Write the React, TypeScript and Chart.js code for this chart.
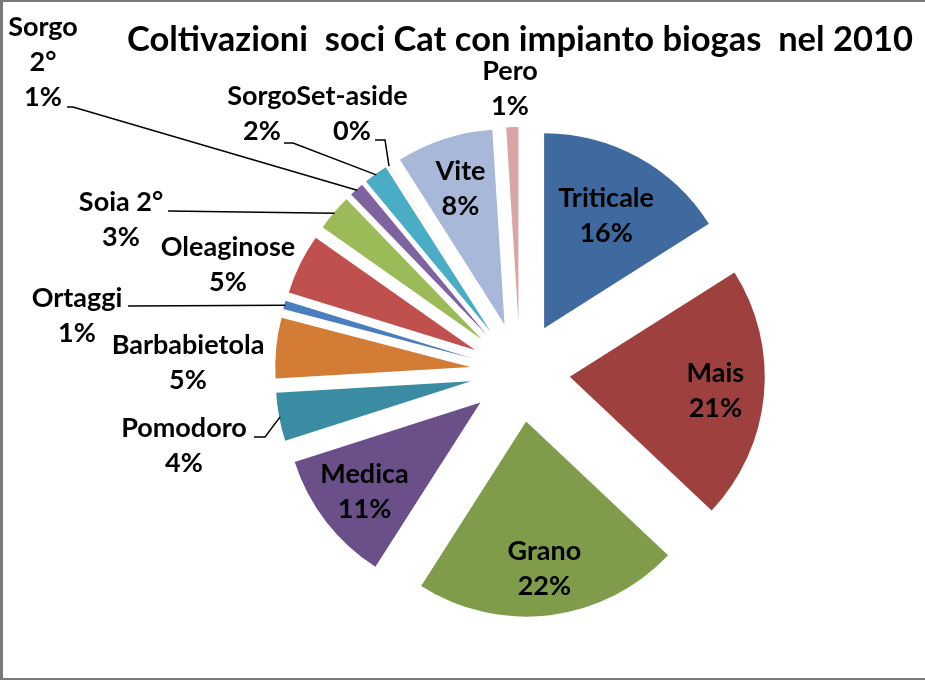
import React, { useEffect, useRef } from 'react';
import { Chart, registerables, ArcElement, PieController } from 'chart.js';

Chart.register(...registerables);

// ---- data ----
const categories = ['Triticale', 'Mais', 'Grano', 'Medica', 'Pomodoro', 'Barbabietola', 'Ortaggi', 'Oleaginose', 'Soia 2°', 'Sorgo 2°', 'Sorgo', 'Set-aside', 'Vite', 'Pero'];
const shares = [16, 21, 22, 11, 4, 5, 0.7, 5, 3, 1.2, 2, 0.02, 8, 1];
const nameLines = [['Triticale'], ['Mais'], ['Grano'], ['Medica'], ['Pomodoro'], ['Barbabietola'], ['Ortaggi'], ['Oleaginose'], ['Soia 2°'], ['Sorgo', '2°'], ['Sorgo'], ['Set-aside'], ['Vite'], ['Pero']];
const titleText = 'Coltivazioni  soci Cat con impianto biogas  nel 2010';

// ---- styles / layout ----
const sliceColors = ['#3F6A9F', '#9E413E', '#7E9C4A', '#6A4F88', '#3A8CA3', '#D27C36', '#4A7EBF', '#C0504D', '#9BBB59', '#7F63A1', '#4AACC5', '#F79646', '#A7B8D8', '#D9A5A5'];
const EXPLODE = 50;
const RADIUS = 195;
const FONT = 'bold 27px Lato';
const LINE_H = 35;

type Placement = { inside?: number; at?: [number, number]; leader?: [number, number][] };
const placements: Placement[] = [
  { inside: 0.66 },
  { inside: 0.75 },
  { inside: 0.76 },
  { inside: 0.75 },
  { at: [-336, 73.5], leader: [[-266, 65], [-255, 65]] },
  { at: [-332, -9.5] },
  { at: [-443, -56.5], leader: [[-392, -66]] },
  { at: [-292, -107] },
  { at: [-399, -152.5], leader: [[-352, -161]] },
  { at: [-477, -310], leader: [[-453, -265], [-447, -265]] },
  { at: [-258, -258.5], leader: [[-236, -229], [-227, -229]] },
  { at: [-168, -258.5], leader: [[-145, -232], [-135, -232]] },
  { inside: 0.73 },
  { at: [-10, -283] },
];

class ExplodedArc extends ArcElement {
  static id = 'explodedArc';
  draw(ctx: CanvasRenderingContext2D) {
    const a: any = this;
    const mid = (a.startAngle + a.endAngle) / 2;
    ctx.save();
    ctx.translate(Math.cos(mid) * EXPLODE, Math.sin(mid) * EXPLODE);
    super.draw(ctx);
    ctx.restore();
  }
}

class ExplodedPieController extends PieController {
  static id = 'explodedPie';
  static defaults = { dataElementType: 'explodedArc' };
}

Chart.register(ExplodedArc as any, ExplodedPieController as any);

const framePlugin = {
  id: 'frame',
  beforeDraw(chart: any) {
    const { ctx, width, height } = chart;
    ctx.save();
    ctx.fillStyle = '#ffffff';
    ctx.fillRect(0, 0, width, height);
    ctx.restore();
  },
  afterDraw(chart: any) {
    const { ctx, width, height } = chart;
    ctx.save();
    ctx.fillStyle = '#7a7a7a';
    ctx.fillRect(0, 0, width, 2);
    ctx.fillRect(0, 0, 3, height);
    ctx.fillRect(0, height - 2, width, 2);
    ctx.restore();
  },
};

const labelPlugin = {
  id: 'sliceLabels',
  afterDatasetsDraw(chart: any) {
    const meta = chart.getDatasetMeta(0);
    const ctx: CanvasRenderingContext2D = chart.ctx;
    const total = shares.reduce((s, v) => s + v, 0);
    ctx.save();
    ctx.font = FONT;
    ctx.fillStyle = '#000';
    ctx.strokeStyle = '#000';
    ctx.lineWidth = 1.5;
    ctx.textAlign = 'center';
    ctx.textBaseline = 'middle';
    meta.data.forEach((arc: any, i: number) => {
      const p = placements[i];
      const mid = (arc.startAngle + arc.endAngle) / 2;
      const ax = arc.x + Math.cos(mid) * EXPLODE;
      const ay = arc.y + Math.sin(mid) * EXPLODE;
      const lines = [...nameLines[i], Math.round((shares[i] / total) * 100) + '%'];
      let cx: number, cy: number;
      if (p.inside !== undefined) {
        cx = ax + Math.cos(mid) * arc.outerRadius * p.inside;
        cy = ay + Math.sin(mid) * arc.outerRadius * p.inside;
      } else {
        cx = arc.x + p.at![0];
        cy = arc.y + p.at![1];
      }
      lines.forEach((t, k) => {
        ctx.fillText(t, cx, cy + (k - (lines.length - 1) / 2) * LINE_H);
      });
      if (p.leader) {
        ctx.beginPath();
        p.leader.forEach(([dx, dy], k) => {
          if (k === 0) ctx.moveTo(arc.x + dx, arc.y + dy);
          else ctx.lineTo(arc.x + dx, arc.y + dy);
        });
        ctx.lineTo(ax + Math.cos(mid) * (arc.outerRadius - 1), ay + Math.sin(mid) * (arc.outerRadius - 1));
        ctx.stroke();
      }
    });
    ctx.restore();
  },
};

export default function App() {
  const ref = useRef<HTMLCanvasElement>(null);
  useEffect(() => {
    if (!ref.current) return;
    const chart = new Chart(ref.current, {
      type: 'explodedPie' as any,
      data: {
        labels: categories,
        datasets: [{
          data: shares,
          backgroundColor: sliceColors,
          borderWidth: 0,
          radius: RADIUS,
          clip: false,
        } as any],
      },
      options: {
        animation: false,
        responsive: true,
        maintainAspectRatio: false,
        layout: { padding: { top: 23, left: 115, right: 0, bottom: 0 } },
        plugins: {
          legend: { display: false },
          tooltip: { enabled: false },
          title: {
            display: true,
            text: titleText,
            color: '#000',
            font: { family: 'Lato', size: 34.5, weight: 'bold', lineHeight: 1 },
            padding: { top: 0, bottom: 6.5 },
          },
        },
      } as any,
      plugins: [framePlugin, labelPlugin],
    });
    return () => chart.destroy();
  }, []);
  return (
    <div style={{ position: 'fixed', left: 0, top: 0, width: 925, height: 680 }}>
      <canvas ref={ref} />
    </div>
  );
}
